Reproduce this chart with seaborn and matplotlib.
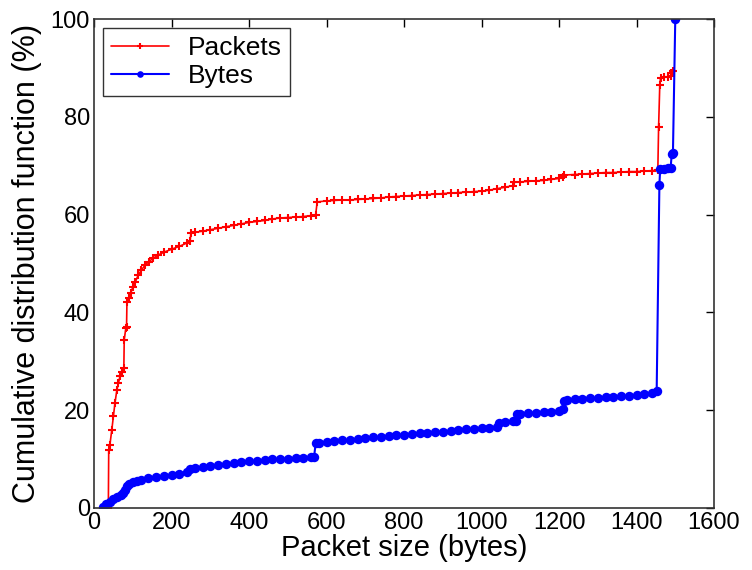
import matplotlib
matplotlib.use("Agg")
import matplotlib.pyplot as plt
import seaborn as sns
import pandas as pd

# Packet-size CDF (packets) -- size in bytes, cumulative %
pkt_size = [37, 38, 41, 46, 50, 54, 59, 63, 67, 72, 77, 78, 82, 84, 85, 90, 95, 100,
            107, 114, 122, 132, 142, 153, 165, 180, 200, 220, 240, 248, 250, 260, 280,
            300, 320, 340, 360, 380, 400, 420, 440, 460, 480, 500, 520, 540, 560, 572,
            576, 600, 620, 640, 660, 680, 700, 720, 740, 760, 780, 800, 820, 840, 860,
            880, 900, 920, 940, 960, 980, 1000, 1020, 1040, 1060, 1080, 1085, 1100, 1120,
            1140, 1160, 1180, 1200, 1210, 1214, 1240, 1260, 1280, 1300, 1320, 1340, 1360,
            1380, 1400, 1420, 1440, 1455, 1457, 1460, 1462, 1470, 1480, 1488, 1490, 1495]
pkt_cdf = [0.0, 11.9, 12.9, 16.0, 18.7, 21.4, 24.1, 25.5, 26.9, 27.8, 28.6, 34.4, 36.7,
           37.0, 42.2, 43.0, 44.0, 45.1, 46.3, 47.6, 48.6, 49.7, 50.4, 51.1, 51.7, 52.3,
           52.9, 53.5, 54.2, 54.5, 56.2, 56.4, 56.6, 56.9, 57.2, 57.5, 57.8, 58.1, 58.4,
           58.6, 58.8, 59.1, 59.3, 59.4, 59.5, 59.6, 59.8, 60.0, 62.6, 62.8, 62.9, 63.0,
           63.0, 63.1, 63.2, 63.3, 63.4, 63.6, 63.7, 63.8, 63.9, 64.0, 64.1, 64.2, 64.3,
           64.4, 64.5, 64.6, 64.7, 64.8, 65.0, 65.3, 65.6, 65.9, 66.6, 66.7, 66.8, 66.9,
           67.0, 67.2, 67.4, 67.6, 68.1, 68.2, 68.3, 68.4, 68.5, 68.6, 68.6, 68.7, 68.8,
           68.8, 68.9, 69.0, 69.1, 78.0, 86.5, 88.0, 88.1, 88.2, 88.3, 89.0, 89.3]

# Packet-size CDF weighted by bytes
byte_size = [24, 30, 40, 50, 60, 70, 76, 80, 84, 90, 100, 110, 120, 140, 160, 180, 200,
             220, 240, 248, 260, 280, 300, 320, 340, 360, 380, 400, 420, 440, 460, 480,
             500, 520, 540, 560, 568, 572, 580, 600, 620, 640, 660, 680, 700, 720, 740,
             760, 780, 800, 820, 840, 860, 880, 900, 920, 940, 960, 980, 1000, 1020, 1040,
             1044, 1060, 1080, 1088, 1092, 1100, 1120, 1140, 1160, 1180, 1200, 1210, 1213,
             1220, 1240, 1260, 1280, 1300, 1320, 1340, 1360, 1380, 1400, 1420, 1440, 1452,
             1459, 1461, 1470, 1480, 1488, 1491, 1494, 1500]
byte_cdf = [0.2, 0.7, 1.2, 1.8, 2.3, 2.7, 3.0, 3.6, 4.5, 4.8, 5.2, 5.5, 5.7, 6.1, 6.3, 6.5,
            6.8, 7.0, 7.3, 7.9, 8.1, 8.3, 8.5, 8.7, 8.9, 9.1, 9.3, 9.5, 9.6, 9.8, 9.9, 10.0,
            10.1, 10.2, 10.3, 10.4, 10.5, 13.2, 13.3, 13.4, 13.6, 13.8, 13.9, 14.1, 14.3,
            14.4, 14.5, 14.7, 14.9, 15.0, 15.2, 15.3, 15.4, 15.5, 15.6, 15.8, 15.9, 16.1,
            16.2, 16.3, 16.4, 16.5, 17.4, 17.5, 17.7, 17.8, 19.2, 19.3, 19.4, 19.5, 19.6,
            19.7, 19.9, 20.2, 21.9, 22.0, 22.2, 22.3, 22.4, 22.5, 22.6, 22.7, 22.8, 22.9,
            23.1, 23.3, 23.6, 23.9, 66.0, 69.3, 69.4, 69.5, 69.6, 72.5, 72.7, 100.0]

x_ticks = [0, 200, 400, 600, 800, 1000, 1200, 1400, 1600]
y_ticks = [0, 20, 40, 60, 80, 100]

sns.set_theme(style="white")
plt.rcParams["font.family"] = ["Liberation Sans", "DejaVu Sans"]
plt.rcParams["text.color"] = "black"
plt.rcParams["axes.labelcolor"] = "black"
plt.rcParams["xtick.color"] = "black"
plt.rcParams["ytick.color"] = "black"

fig = plt.figure(figsize=(7.52, 5.70), dpi=100)
ax = fig.add_axes([0.125, 0.109, 0.8245, 0.8575])

pkt = pd.DataFrame({"size": pkt_size, "cdf": pkt_cdf})
byt = pd.DataFrame({"size": byte_size, "cdf": byte_cdf})

sns.lineplot(data=pkt, x="size", y="cdf", ax=ax, color="#ff0000", linewidth=1.2,
             marker="+", markersize=5.5, markeredgewidth=1.5,
             markeredgecolor="#ff0000", sort=False, estimator=None, label="Packets")
sns.lineplot(data=byt, x="size", y="cdf", ax=ax, color="#0000ff", linewidth=1.5,
             marker="o", markersize=6.8, markeredgewidth=0,
             markerfacecolor="#0000ff", sort=False, estimator=None, label="Bytes")

ax.set_xlim(0, 1600)
ax.set_ylim(0, 100)
ax.set_xticks(x_ticks)
ax.set_yticks(y_ticks)
ax.tick_params(direction="in", length=6, width=1, colors="black", labelsize=17,
               top=True, right=True, pad=3)
for s in ax.spines.values():
    s.set_color("#333333")
    s.set_linewidth(1.2)

ax.set_xlabel("Packet size (bytes)", fontsize=21, labelpad=0)
ax.set_ylabel("Cumulative distribution function (%)", fontsize=22, labelpad=6)

leg = ax.legend(loc="upper left", fontsize=19, frameon=True, fancybox=False,
                edgecolor="#000000", handlelength=2.2, borderaxespad=0.35,
                labelspacing=0.15, handletextpad=0.7, borderpad=0.3, markerscale=0.7)
leg.get_frame().set_linewidth(1.0)

fig.savefig("out.png", dpi=100, facecolor="white")
